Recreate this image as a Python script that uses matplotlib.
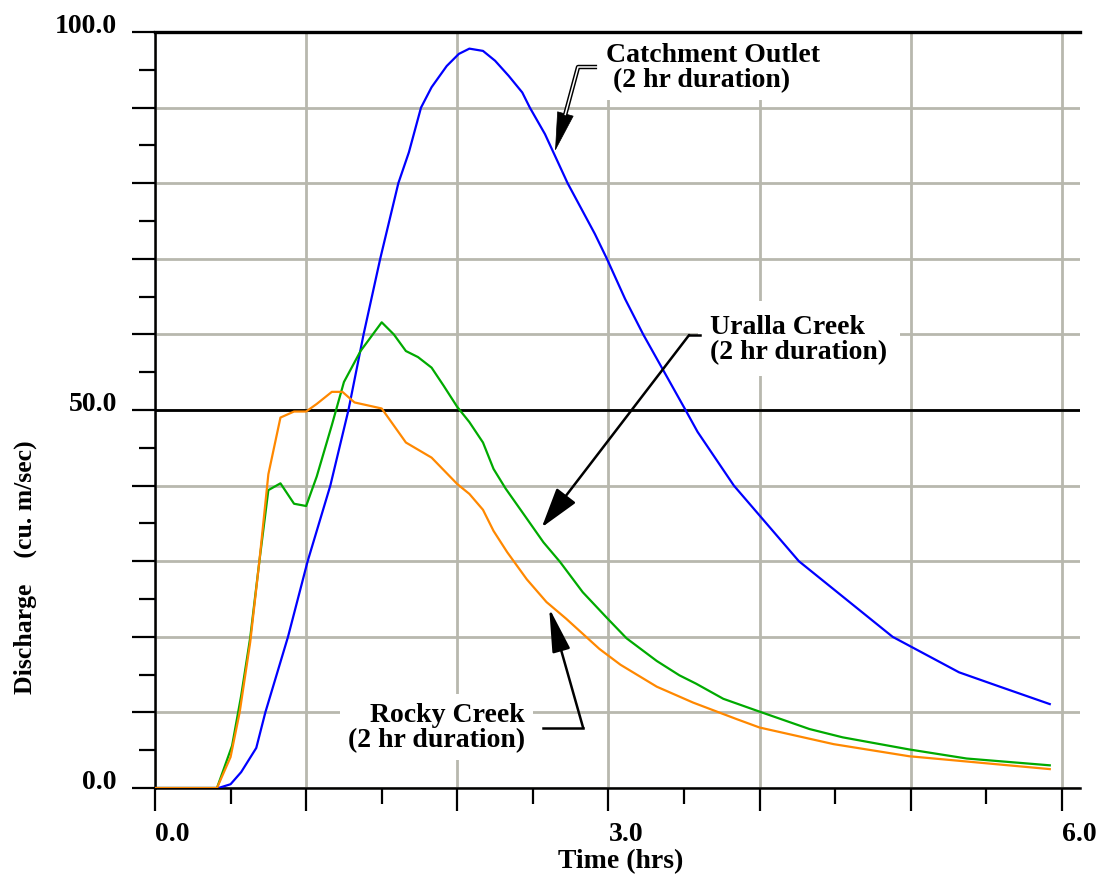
import matplotlib.pyplot as plt
from matplotlib.ticker import MultipleLocator

plt.rcParams['font.family'] = 'Liberation Serif'
plt.rcParams['font.weight'] = 'bold'

# Hydrograph ordinates: time (hrs) and discharge (cu. m/sec)
outlet_t = [0.0, 0.42, 0.50, 0.57, 0.67, 0.73, 0.88, 1.01, 1.16, 1.28, 1.38, 1.49,
            1.61, 1.68, 1.76, 1.83, 1.93, 2.01, 2.08, 2.17, 2.25, 2.34, 2.43, 2.48,
            2.58, 2.73, 2.91, 2.99, 3.11, 3.23, 3.51, 3.59, 3.83, 4.26, 4.88, 5.32,
            5.59, 5.92]
outlet_q = [0.0, 0.0, 0.5, 2.1, 5.3, 10.0, 20.0, 30.0, 40.0, 50.0, 60.0, 70.0,
            80.0, 84.1, 90.0, 92.7, 95.5, 97.1, 97.8, 97.5, 96.2, 94.2, 92.0, 90.0,
            86.5, 80.0, 73.3, 70.0, 64.7, 60.0, 50.0, 47.1, 40.0, 30.0, 20.0, 15.3,
            13.4, 11.1]

uralla_t = [0.0, 0.41, 0.51, 0.57, 0.63, 0.69, 0.75, 0.83, 0.92, 1.00, 1.07, 1.17,
            1.25, 1.36, 1.50, 1.58, 1.66, 1.74, 1.83, 1.91, 2.00, 2.08, 2.17, 2.24,
            2.32, 2.44, 2.57, 2.68, 2.83, 2.99, 3.12, 3.32, 3.47, 3.58, 3.76, 4.00,
            4.33, 4.55, 4.99, 5.37, 5.92]
uralla_q = [0.0, 0.0, 5.6, 12.2, 19.9, 29.9, 39.4, 40.3, 37.6, 37.3, 41.2, 48.0,
            53.7, 57.8, 61.6, 60.0, 57.8, 57.0, 55.6, 53.2, 50.4, 48.4, 45.7, 42.2,
            39.6, 36.2, 32.5, 29.9, 25.9, 22.5, 19.8, 16.8, 14.9, 13.8, 11.8, 10.1,
            7.8, 6.7, 5.1, 3.9, 3.0]

rocky_t = [0.0, 0.41, 0.50, 0.56, 0.63, 0.69, 0.75, 0.83, 0.92, 1.00, 1.07, 1.17,
           1.24, 1.32, 1.50, 1.66, 1.83, 2.00, 2.08, 2.17, 2.24, 2.33, 2.46, 2.59,
           2.72, 2.94, 3.08, 3.32, 3.56, 3.85, 4.00, 4.49, 4.99, 5.92]
rocky_q = [0.0, 0.0, 4.1, 10.0, 19.3, 29.9, 41.5, 49.0, 49.8, 49.8, 50.8, 52.4,
           52.4, 51.0, 50.2, 45.7, 43.7, 40.2, 38.9, 36.8, 34.0, 31.2, 27.6, 24.6,
           22.4, 18.4, 16.3, 13.4, 11.3, 9.1, 8.0, 5.8, 4.2, 2.5]

x_labels = ['0.0', '', '', '3.0', '', '', '6.0']
y_labels = ['0.0', '', '', '', '', '50.0', '', '', '', '', '100.0']

grid_col = '#b8b8ae'

fig = plt.figure(figsize=(11.01, 8.78), dpi=100)
ax = fig.add_axes([155 / 1101, 89 / 878, 925 / 1101, 756 / 878])
ax.set_xlim(0, 6.12)
ax.set_ylim(0, 100)

ax.xaxis.set_major_locator(MultipleLocator(1))
ax.xaxis.set_minor_locator(MultipleLocator(0.5))
ax.yaxis.set_major_locator(MultipleLocator(10))
ax.yaxis.set_minor_locator(MultipleLocator(5))
ax.set_xticks(range(7))
ax.set_xticklabels(x_labels, ha='left')
ax.set_yticks(range(0, 101, 10))
ax.set_yticklabels(y_labels)
for lbl in ax.get_yticklabels():
    lbl.set_va('baseline')

ax.tick_params(which='major', length=16.5, width=1.6, color='black', labelsize=20)
ax.tick_params(which='minor', length=11.5, width=1.6, color='black')
ax.tick_params(axis='x', which='major', pad=7)
ax.tick_params(axis='y', which='major', pad=11)

for side in ['top', 'right']:
    ax.spines[side].set_visible(False)
for side in ['left', 'bottom']:
    ax.spines[side].set_linewidth(1.8)

ax.set_axisbelow(True)
ax.grid(which='major', color=grid_col, lw=2)
ax.axhline(50, color='black', lw=2, zorder=2)
ax.axhline(100, color='black', lw=2.4, zorder=4.5, clip_on=False)

ax.plot(outlet_t, outlet_q, color='#0000ff', lw=1.6, zorder=4)
ax.plot(uralla_t, uralla_q, color='#00aa00', lw=1.6, zorder=4)
ax.plot(rocky_t, rocky_q, color='#ff8800', lw=1.6, zorder=4)

# label positions are the baseline of the second line
label_box = dict(boxstyle='square,pad=0.3', fc='white', ec='none')
ax.text(2.985, 92.9, 'Catchment Outlet\n (2 hr duration)', fontsize=20,
        ha='left', va='baseline', linespacing=1.0, bbox=label_box, zorder=3)
ax.text(3.673, 56.9, 'Uralla Creek\n(2 hr duration)', fontsize=20,
        ha='left', va='baseline', linespacing=1.0,
        bbox=dict(boxstyle='square,pad=0.45', fc='white', ec='none'), zorder=3)
ax.text(2.449, 5.56, 'Rocky Creek\n(2 hr duration)', fontsize=20,
        ha='right', va='baseline', multialignment='right', linespacing=1.0,
        bbox=label_box, zorder=3)

# Catchment Outlet: hollow shaft with solid head
ax.plot([2.925, 2.799, 2.713], [95.37, 95.37, 89.0], color='black', lw=3.2,
        solid_capstyle='butt', zorder=5)
ax.annotate('', xy=(2.647, 84.26), xytext=(2.713, 89.0),
            arrowprops=dict(arrowstyle='-|>,head_length=2.65,head_width=0.58',
                            mutation_scale=10, color='black', lw=0.5,
                            shrinkA=0, shrinkB=0), zorder=5)
ax.plot([2.93, 2.799, 2.713], [95.37, 95.37, 89.0], color='white', lw=1.1,
        solid_capstyle='butt', zorder=6)

# Uralla Creek pointer
ax.plot([3.607, 3.534], [59.92, 59.92], color='black', lw=1.8, zorder=5)
ax.annotate('', xy=(2.559, 34.48), xytext=(3.534, 59.92),
            arrowprops=dict(arrowstyle='-|>,head_length=2.5,head_width=0.75',
                            mutation_scale=10, color='black', lw=1.8,
                            shrinkA=0, shrinkB=0), zorder=5)

# Rocky Creek pointer
ax.plot([2.568, 2.833], [7.94, 7.94], color='black', lw=1.8, zorder=5)
ax.annotate('', xy=(2.608, 23.81), xytext=(2.833, 7.94),
            arrowprops=dict(arrowstyle='-|>,head_length=2.7,head_width=0.56',
                            mutation_scale=10, color='black', lw=1.8,
                            shrinkA=0, shrinkB=0), zorder=5)

fig.text(621 / 1101, 16 / 878, 'Time (hrs)', fontsize=20, ha='center', va='center')
fig.text(25 / 1101, 311 / 878, 'Discharge    (cu. m/sec)', fontsize=18.5,
         rotation=90, ha='center', va='center')

fig.savefig('out.png', dpi=100)
